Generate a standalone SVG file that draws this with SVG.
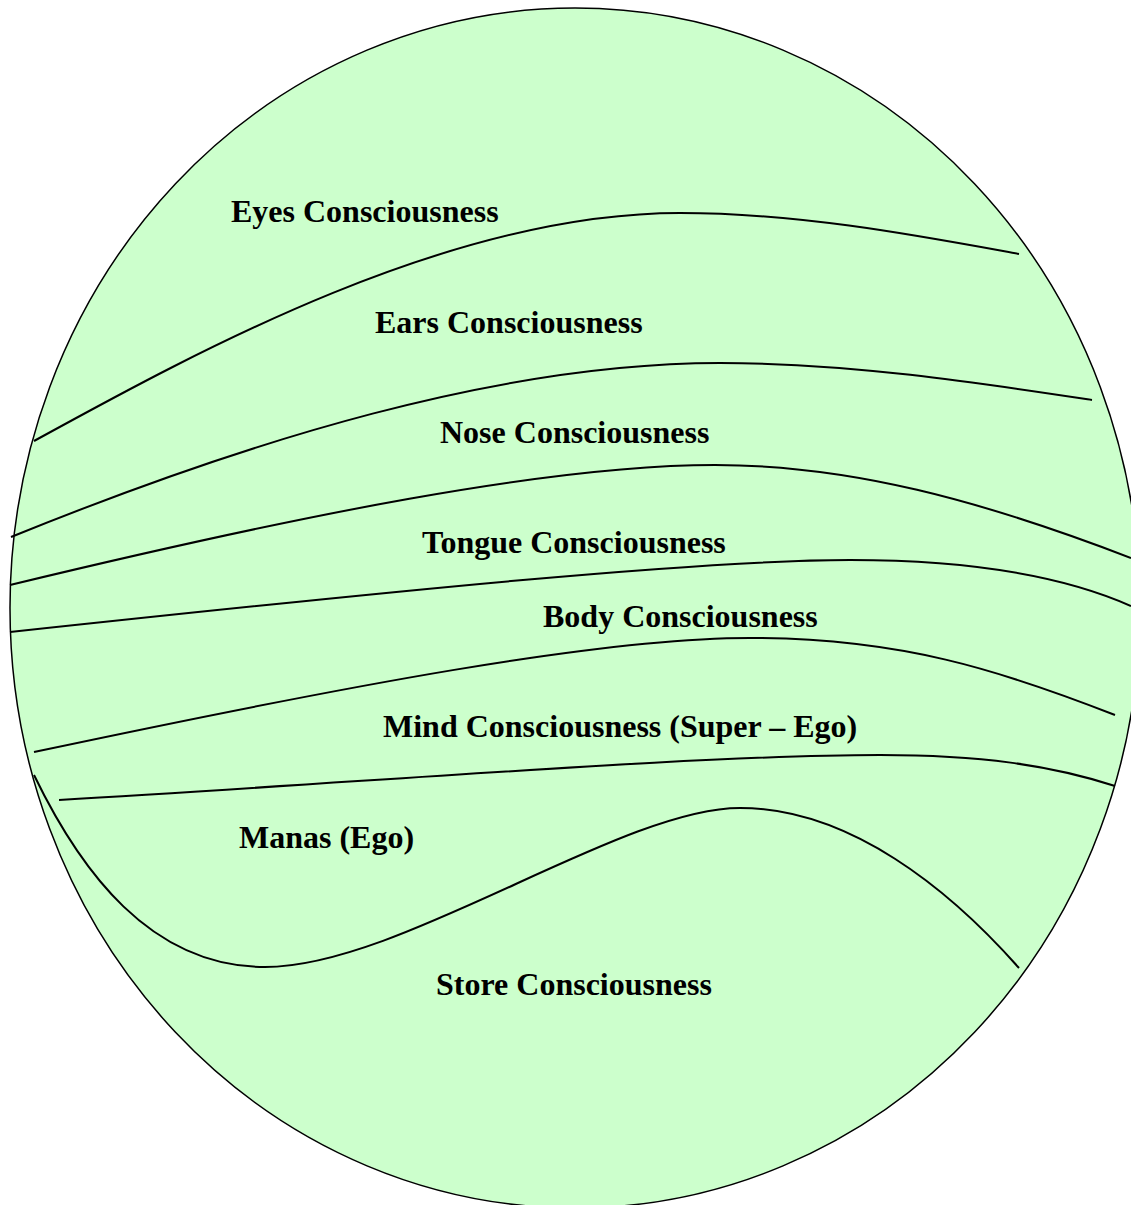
<svg xmlns="http://www.w3.org/2000/svg" width="1131" height="1205" viewBox="0 0 1131 1205">
<style>
.lbl{font-family:"Liberation Serif","Times New Roman",serif;font-weight:bold;font-size:32px;fill:#000}
.ln{fill:none;stroke:#000;stroke-width:2}
</style>
<rect width="1131" height="1205" fill="#fff"/>
<g id="sphere">
<ellipse cx="575" cy="608" rx="565" ry="600" fill="#ccffcc" stroke="#000" stroke-width="1.5"/>
</g>
<g id="connectors">
<path class="ln" d="M34,441 C200,350 450,213 680,213 C800,213 920,236 1019,254"/>
<path class="ln" d="M11,537 C250,440 500,363 720,363 C850,363 980,383 1092,400"/>
<path class="ln" d="M10,585 C300,515 550,465 715,465 C850,465 980,500 1131,558"/>
<path class="ln" d="M10,632 C400,590 700,560 850,560 C950,560 1050,570 1131,606"/>
<path class="ln" d="M34,752 C350,685 600,638 750,638 C900,638 1000,670 1115,715"/>
<path class="ln" d="M59,800 C400,780 700,755 880,755 C980,755 1050,765 1115,786"/>
<path class="ln" d="M34,775 C80,870 150,967 265,967 C400,967 620,808 740,808 C850,808 950,890 1019,968"/>
</g>
<g id="eyes"><text class="lbl" x="231" y="222">Eyes Consciousness</text></g>
<g id="ears"><text class="lbl" x="375" y="333">Ears Consciousness</text></g>
<g id="nose"><text class="lbl" x="440" y="443">Nose Consciousness</text></g>
<g id="tongue"><text class="lbl" x="422" y="553">Tongue Consciousness</text></g>
<g id="body"><text class="lbl" x="543" y="627">Body Consciousness</text></g>
<g id="mind"><text class="lbl" x="383" y="737">Mind Consciousness (Super – Ego)</text></g>
<g id="manas"><text class="lbl" x="239" y="848">Manas (Ego)</text></g>
<g id="store"><text class="lbl" x="436" y="995">Store Consciousness</text></g>
</svg>
